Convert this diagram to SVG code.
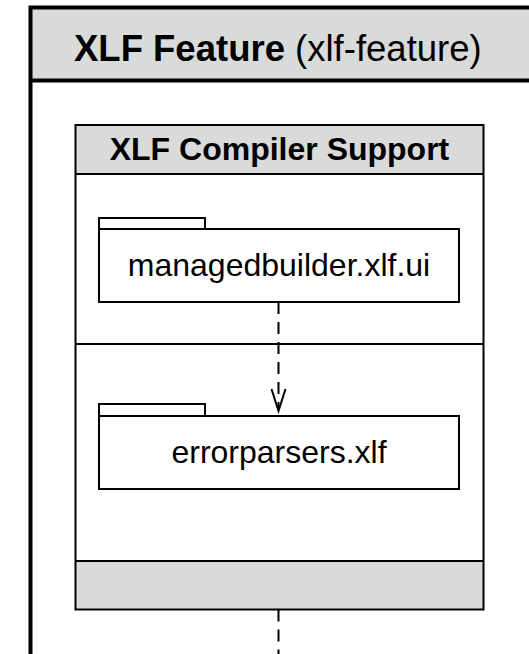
<svg xmlns="http://www.w3.org/2000/svg" width="529" height="654" viewBox="0 0 529 654">
<style>
.band{fill:#d9dbdb}
.ln{fill:none;stroke:#000;stroke-width:2}
.pkg{fill:#fff;stroke:#000;stroke-width:2}
.t{font-family:"Liberation Sans",Arial,sans-serif;fill:#000}
.dash{fill:none;stroke:#000;stroke-width:2;stroke-dasharray:12 8}
</style>
<rect width="529" height="654" fill="#fff"/>
<g id="xlf-feature">
<rect class="band" x="30.5" y="7.5" width="520" height="73"/>
<rect x="30.5" y="7.5" width="520" height="700" fill="none" stroke="#000" stroke-width="4"/>
<line x1="30.5" y1="80.5" x2="550" y2="80.5" stroke="#000" stroke-width="4"/>
<text class="t" x="74" y="61" font-size="36.5"><tspan font-weight="bold">XLF Feature</tspan> (xlf-feature)</text>
</g>
<g id="xlf-compiler-support">
<rect class="band" x="75.5" y="125" width="408" height="49"/>
<rect class="band" x="75.5" y="561" width="408" height="48.5"/>
<rect class="ln" x="75.5" y="125" width="408" height="484.5"/>
<line class="ln" x1="75.5" y1="174" x2="483.5" y2="174"/>
<line class="ln" x1="75.5" y1="344" x2="483.5" y2="344"/>
<line class="ln" x1="75.5" y1="561" x2="483.5" y2="561"/>
<text class="t" x="279.5" y="160" font-size="32" font-weight="bold" text-anchor="middle">XLF Compiler Support</text>
</g>
<g id="managedbuilder-xlf-ui">
<rect class="pkg" x="99" y="218" width="106" height="11"/>
<rect class="pkg" x="99" y="229" width="360" height="73"/>
<text class="t" x="279" y="276" font-size="32" text-anchor="middle">managedbuilder.xlf.ui</text>
</g>
<g id="errorparsers-xlf">
<rect class="pkg" x="99" y="404" width="106" height="12"/>
<rect class="pkg" x="99" y="416" width="360" height="73"/>
<text class="t" x="279" y="463" font-size="32" text-anchor="middle">errorparsers.xlf</text>
</g>
<g id="connectors">
<line class="dash" x1="278.5" y1="302" x2="278.5" y2="410"/>
<polyline class="ln" points="271.5,389 278.5,411 285.5,389"/>
<line class="dash" x1="278.5" y1="609.5" x2="278.5" y2="660"/>
</g>
</svg>
